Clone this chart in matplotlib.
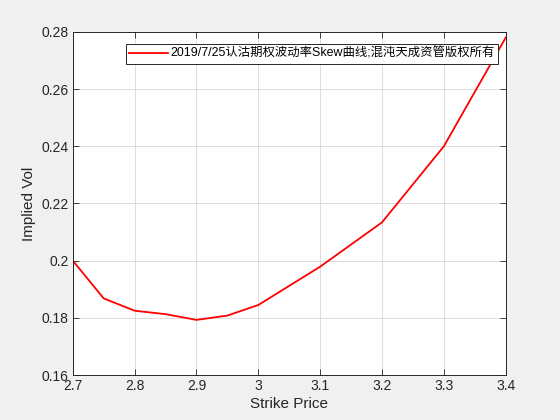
import matplotlib
matplotlib.use("Agg")
import matplotlib.pyplot as plt

# strike vs implied vol
strikes = [2.7, 2.75, 2.8, 2.85, 2.9, 2.95, 3.0, 3.1, 3.2, 3.3, 3.4]
vols = [0.2000, 0.1868, 0.1825, 0.1813, 0.1793, 0.1808, 0.1845, 0.1979, 0.2134, 0.2400, 0.2780]
xticks = [2.7, 2.8, 2.9, 3.0, 3.1, 3.2, 3.3, 3.4]
xticklabels = ["2.7", "2.8", "2.9", "3", "3.1", "3.2", "3.3", "3.4"]
yticks = [0.16, 0.18, 0.2, 0.22, 0.24, 0.26, 0.28]
yticklabels = ["0.16", "0.18", "0.2", "0.22", "0.24", "0.26", "0.28"]
label = "2019/7/25认沽期权波动率Skew曲线;混沌天成资管版权所有"

plt.rcParams['font.family'] = ['Liberation Sans', 'Noto Sans CJK SC', 'DejaVu Sans']

fig = plt.figure(figsize=(5.6, 4.2), dpi=100, facecolor='#f0f0f0')
ax = fig.add_axes([0.13, 0.107, 0.773, 0.817])
ax.set_facecolor('white')

ax.plot(strikes, vols, color='red', linewidth=1.3, label=label)

ax.set_xlim(2.7, 3.4)
ax.set_ylim(0.16, 0.28)
ax.set_xticks(xticks)
ax.set_xticklabels(xticklabels)
ax.set_yticks(yticks)
ax.set_yticklabels(yticklabels)
ax.grid(True, color='#dcdcdc', linewidth=0.7)
ax.set_axisbelow(True)
ax.tick_params(direction='in', length=4, width=0.6, colors='#262626', labelsize=10,
               top=True, right=True, labeltop=False, labelright=False, pad=3)
for s in ax.spines.values():
    s.set_color('#262626')
    s.set_linewidth(0.7)

ax.set_xlabel("Strike Price", fontsize=11, color='#262626', labelpad=3)
ax.set_ylabel("Implied Vol", fontsize=11, color='#262626', labelpad=4)

leg = ax.legend(loc='upper right', bbox_to_anchor=(0.983, 0.965), fontsize=8.9,
                fancybox=False, framealpha=1, edgecolor='#262626',
                borderpad=0.3, handlelength=3.1, handletextpad=0.2, borderaxespad=0)
leg.get_frame().set_linewidth(0.7)

fig.savefig("out.png", dpi=100, facecolor=fig.get_facecolor())
